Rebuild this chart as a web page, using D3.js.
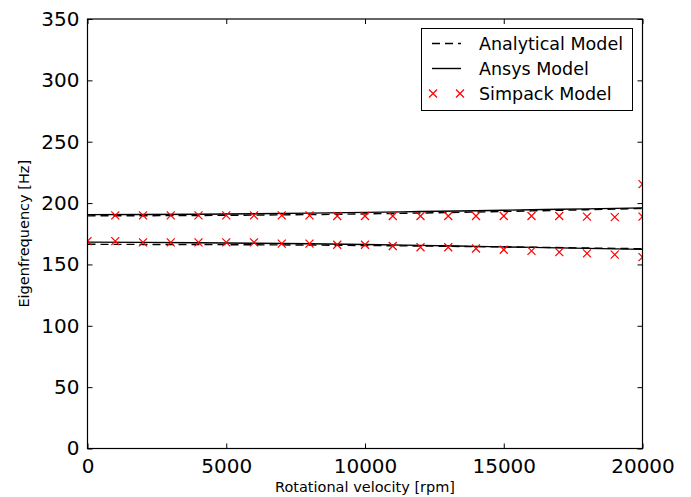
<!DOCTYPE html>
<html>
<head>
<meta charset="utf-8">
<script src="https://cdn.jsdelivr.net/npm/d3@7"></script>
<style>
body { margin: 0; background: #fff; }
text { font-family: "DejaVu Sans", sans-serif; }
</style>
</head>
<body>
<div id="chart"></div>
<script>
// data
var lineRpm        = [0, 2000, 4000, 6000, 8000, 10000, 12000, 14000, 16000, 18000, 20000];
var analyticalLow  = [166.4, 166.3, 166.2, 166.0, 165.8, 165.4, 165.0, 164.5, 164.0, 163.4, 162.8];
var analyticalHigh = [189.6, 189.7, 189.9, 190.2, 190.6, 191.2, 191.9, 192.7, 193.6, 194.6, 195.6];
var ansysLow       = [168.2, 168.0, 167.7, 167.3, 166.8, 166.2, 165.5, 164.7, 163.9, 163.1, 162.3];
var ansysHigh      = [190.6, 190.7, 190.9, 191.3, 191.8, 192.4, 193.1, 193.8, 194.6, 195.3, 196.1];

var simpackRpm  = [0, 1000, 2000, 3000, 4000, 5000, 6000, 7000, 8000, 9000, 10000,
                   11000, 12000, 13000, 14000, 15000, 16000, 17000, 18000, 19000, 20000];
var simpackLow  = [169, 169, 168, 168, 168, 168, 168, 167, 167, 166, 166,
                   165, 164, 164, 163, 162, 161, 160, 159, 158, 156];
var simpackHighRpm = [1000, 2000, 3000, 4000, 5000, 6000, 7000, 8000, 9000, 10000,
                      11000, 12000, 13000, 14000, 15000, 16000, 17000, 18000, 19000, 20000, 20000];
var simpackHigh = [190, 190, 190, 190, 190, 190, 190, 190, 189.5, 189.5,
                   189.5, 189.5, 189.5, 189.5, 189.5, 189.5, 189.5, 189, 188.5, 189, 215.5];

var xTicks = [0, 5000, 10000, 15000, 20000];
var yTicks = [0, 50, 100, 150, 200, 250, 300, 350];
var legendLabels = ['Analytical Model', 'Ansys Model', 'Simpack Model'];

var width = 691, height = 497;
var margin = { left: 87.5, right: 48.5, top: 19, bottom: 48.5 };

var svg = d3.select('#chart')
    .append('svg')
    .attr('width', width)
    .attr('height', height);

var x = d3.scaleLinear().domain([0, 20000]).range([margin.left, width - margin.right]);
var y = d3.scaleLinear().domain([0, 350]).range([height - margin.bottom, margin.top]);

var tickLen = 5;

// clip for data
svg.append('clipPath').attr('id', 'clip')
   .append('rect')
   .attr('x', margin.left).attr('y', margin.top)
   .attr('width', x(20000) - x(0)).attr('height', y(0) - y(350));

var line = d3.line()
    .x(function(d){ return x(d[0]); })
    .y(function(d){ return y(d[1]); })
    .curve(d3.curveMonotoneX);

function pairs(xs, ys) { return xs.map(function(v, i){ return [v, ys[i]]; }); }

var plot = svg.append('g').attr('clip-path', 'url(#clip)');

[analyticalLow, analyticalHigh].forEach(function(s){
    plot.append('path')
        .attr('d', line(pairs(lineRpm, s)))
        .attr('fill', 'none').attr('stroke', '#000')
        .attr('stroke-width', 1.4)
        .attr('stroke-dasharray', '8,5');
});
[ansysLow, ansysHigh].forEach(function(s){
    plot.append('path')
        .attr('d', line(pairs(lineRpm, s)))
        .attr('fill', 'none').attr('stroke', '#000')
        .attr('stroke-width', 1.4);
});

var ms = 4;
function cross(g, cx, cy) {
    g.append('path')
     .attr('d', 'M' + (cx - ms) + ',' + (cy - ms) + 'L' + (cx + ms) + ',' + (cy + ms) +
                'M' + (cx - ms) + ',' + (cy + ms) + 'L' + (cx + ms) + ',' + (cy - ms))
     .attr('stroke', '#ff0000').attr('stroke-width', 1.2).attr('fill', 'none');
}
pairs(simpackRpm, simpackLow).forEach(function(d){ cross(plot, x(d[0]), y(d[1])); });
pairs(simpackHighRpm, simpackHigh).forEach(function(d){ cross(plot, x(d[0]), y(d[1])); });

// axes (inward ticks on all sides)
var fmt = d3.format('d');
var axisBottom = d3.axisBottom(x).tickValues(xTicks).tickFormat(fmt).tickSizeInner(-tickLen).tickSizeOuter(0).tickPadding(10);
var axisTop    = d3.axisTop(x).tickValues(xTicks).tickSizeInner(-tickLen).tickSizeOuter(0).tickFormat('');
var axisLeft   = d3.axisLeft(y).tickValues(yTicks).tickFormat(fmt).tickSizeInner(-tickLen).tickSizeOuter(0).tickPadding(8);
var axisRight  = d3.axisRight(y).tickValues(yTicks).tickSizeInner(-tickLen).tickSizeOuter(0).tickFormat('');

function styleAxis(g) {
    g.select('.domain').remove();
    g.selectAll('line').attr('stroke', '#000').attr('stroke-width', 1);
    g.selectAll('text').attr('font-size', 20).attr('fill', '#000')
     .attr('font-family', '"DejaVu Sans", sans-serif');
}

svg.append('g').attr('transform', 'translate(0,' + y(0) + ')').call(axisBottom).call(styleAxis);
svg.append('g').attr('transform', 'translate(0,' + y(350) + ')').call(axisTop).call(styleAxis);
svg.append('g').attr('transform', 'translate(' + x(0) + ',0)').call(axisLeft).call(styleAxis);
svg.append('g').attr('transform', 'translate(' + x(20000) + ',0)').call(axisRight).call(styleAxis);

svg.append('rect')
   .attr('x', x(0)).attr('y', y(350))
   .attr('width', x(20000) - x(0)).attr('height', y(0) - y(350))
   .attr('fill', 'none').attr('stroke', '#000').attr('stroke-width', 1.2);

// axis labels
svg.append('text')
   .attr('x', (x(0) + x(20000)) / 2).attr('y', 492)
   .attr('text-anchor', 'middle').attr('font-size', 14.5)
   .text('Rotational velocity [rpm]');
svg.append('text')
   .attr('transform', 'translate(29,' + (y(0) + y(350)) / 2 + ') rotate(-90)')
   .attr('text-anchor', 'middle').attr('font-size', 14.5)
   .text('Eigenfrequency [Hz]');

// legend
var lg = svg.append('g');
lg.append('rect')
  .attr('x', 421.5).attr('y', 28.5).attr('width', 211).attr('height', 82)
  .attr('fill', '#fff').attr('stroke', '#000').attr('stroke-width', 1);
var rowY = [43.5, 68.5, 93.5];
legendLabels.forEach(function(label, i){
    var ry = rowY[i];
    if (i === 0) {
        lg.append('line').attr('x1', 432).attr('x2', 461).attr('y1', ry).attr('y2', ry)
          .attr('stroke', '#000').attr('stroke-width', 1.4).attr('stroke-dasharray', '8,5');
    } else if (i === 1) {
        lg.append('line').attr('x1', 432).attr('x2', 461).attr('y1', ry).attr('y2', ry)
          .attr('stroke', '#000').attr('stroke-width', 1.4);
    } else {
        cross(lg, 433, ry);
        cross(lg, 460, ry);
    }
    lg.append('text').attr('x', 479).attr('y', ry).attr('dy', '0.36em')
      .attr('font-size', 17.5).text(label);
});
</script>
</body>
</html>
